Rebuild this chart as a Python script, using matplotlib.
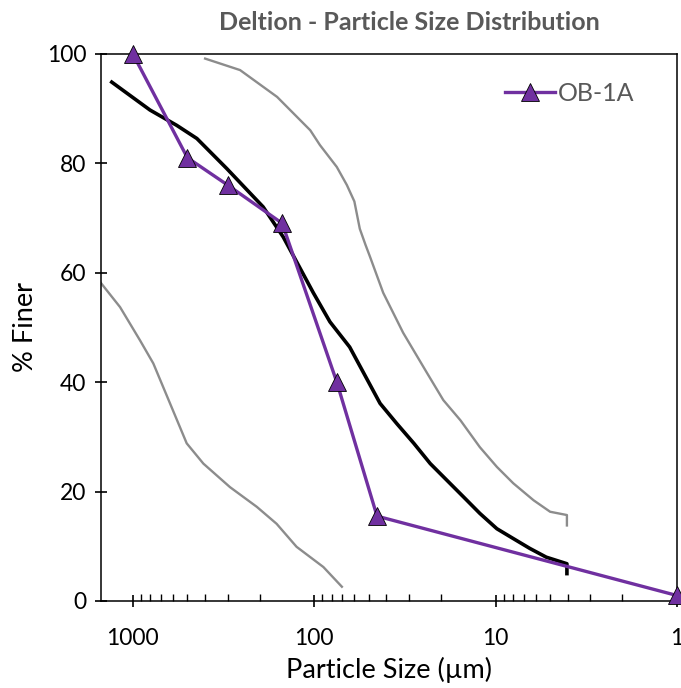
import numpy as np
import matplotlib.pyplot as plt
from matplotlib.ticker import FixedLocator, LogLocator, NullFormatter

plt.rcParams['font.family'] = ['Lato', 'DejaVu Sans']

# OB-1A sample (purple, triangles)
ob_size = [1000, 500, 300, 150, 75, 45, 1]
ob_finer = [100, 81, 76, 69, 40, 15.5, 1]

# reference curve (black)
ref_size = [1305, 803, 572, 443, 303, 191, 148, 101, 81.8, 63.7, 43.3, 35.0, 28.2,
            22.9, 18.6, 15.0, 12.2, 9.83, 7.98, 6.47, 5.25, 4.04, 4.04]
ref_finer = [94.8, 89.7, 86.9, 84.5, 79.0, 72.0, 66.5, 56.3, 51.0, 46.4, 36.1, 32.4, 28.8,
             25.1, 22.1, 19.0, 16.0, 13.2, 11.4, 9.6, 8.0, 6.8, 5.0]

# fine envelope (grey, right)
fine_size = [399, 256, 160, 105, 92.9, 75.0, 66.0, 60.0, 56.0, 52.0, 49.2, 41.6, 32.3,
             24.0, 19.4, 15.6, 12.2, 9.83, 7.98, 6.17, 5.0, 4.04, 4.04]
fine_finer = [99.1, 97.0, 92.1, 86.0, 83.3, 79.3, 76.0, 73.0, 68.0, 65.0, 62.9, 56.3, 49.0,
              41.8, 36.7, 33.0, 28.1, 24.5, 21.5, 18.4, 16.3, 15.7, 13.8]

# coarse envelope (grey, left)
coarse_size = [1514, 1175, 911, 770, 645, 504, 408, 291, 207, 161, 125, 88.9, 70.3]
coarse_finer = [58.3, 53.7, 47.6, 43.4, 37.3, 28.8, 25.1, 20.8, 17.2, 14.1, 9.9, 6.2, 2.6]

x_ticks = [1000, 100, 10, 1]
y_ticks = [0, 20, 40, 60, 80, 100]

fig = plt.figure(figsize=(6.81, 6.88), dpi=100)
ax = fig.add_axes([0.148, 0.1265, 0.846, 0.7955])

ax.plot(coarse_size, coarse_finer, color='#8c8c8c', lw=1.7)
ax.plot(fine_size, fine_finer, color='#8c8c8c', lw=1.7)
ax.plot(ref_size, ref_finer, color='black', lw=2.6)
ax.plot(ob_size, ob_finer, color='#7030A0', lw=2.4, marker='^', markersize=13.5,
        markerfacecolor='#7030A0', markeredgecolor='black', markeredgewidth=0.6,
        clip_on=False, label='OB-1A', zorder=5)

ax.set_xscale('log')
ax.set_xlim(1500, 1)
ax.set_ylim(0, 100)

ax.xaxis.set_major_locator(FixedLocator(x_ticks))
ax.set_xticklabels([str(v) for v in x_ticks])
ax.xaxis.set_minor_locator(LogLocator(base=10, subs=np.arange(2, 10)))
ax.xaxis.set_minor_formatter(NullFormatter())
ax.set_yticks(y_ticks)

ax.tick_params(axis='both', which='major', direction='inout', length=9, width=1.2,
               labelsize=16.5, pad=6)
ax.tick_params(axis='x', which='minor', direction='in', length=5, width=1.0)
ax.tick_params(axis='x', which='major', pad=15)
for s in ax.spines.values():
    s.set_linewidth(1.1)

ax.set_xlabel('Particle Size (µm)', fontsize=19.5, labelpad=6)
ax.set_ylabel('% Finer', fontsize=19.5, labelpad=6)
ax.set_title('Deltion - Particle Size Distribution', fontsize=18, fontweight='bold',
             color='#595959', pad=17, x=0.535)

leg = ax.legend(loc='upper right', bbox_to_anchor=(0.965, 0.99), frameon=False,
                fontsize=18, handlelength=2.0, handletextpad=0.1)
for t in leg.get_texts():
    t.set_color('#595959')

fig.savefig('out.png', dpi=100)
